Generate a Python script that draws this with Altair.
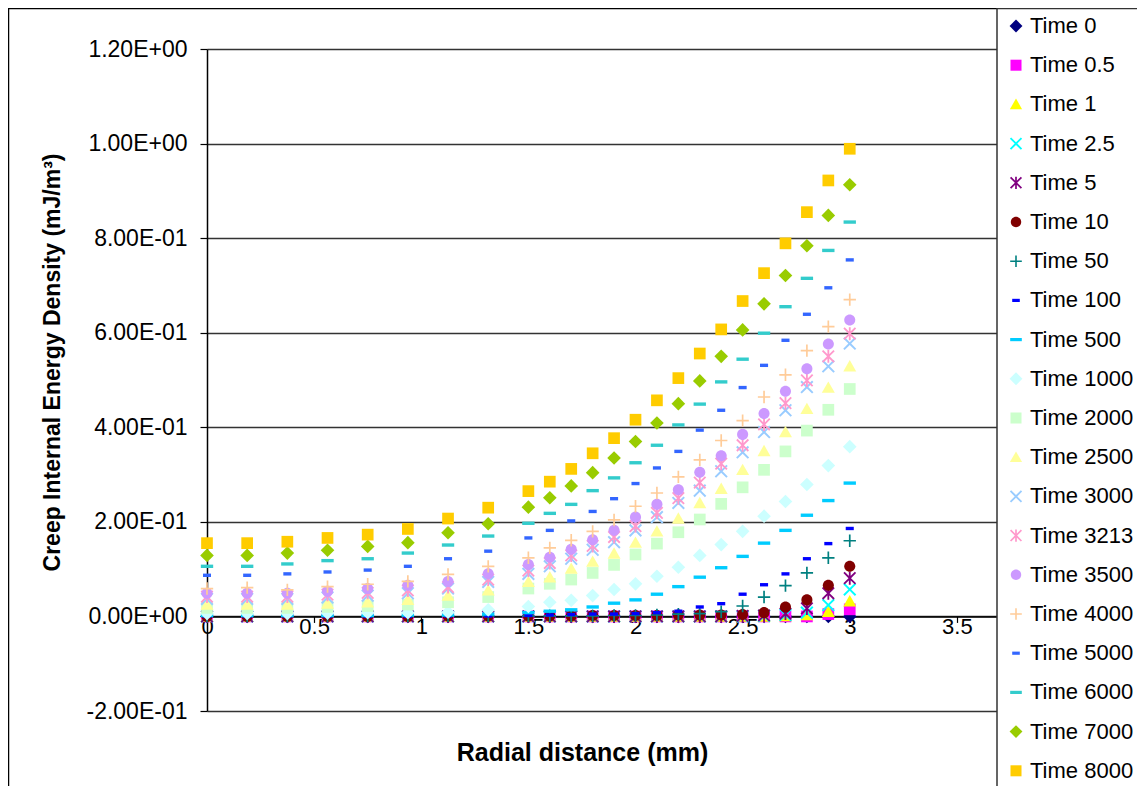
import math
import altair as alt
import pandas as pd

# ---------------- data ----------------
x_mm = [0, 0.1875, 0.375, 0.5625, 0.75, 0.9375, 1.125, 1.3125, 1.5, 1.6, 1.7, 1.8,
        1.9, 2.0, 2.1, 2.2, 2.3, 2.4, 2.5, 2.6, 2.7, 2.8, 2.9, 3.0]

series_names = ["Time 0", "Time 0.5", "Time 1", "Time 2.5", "Time 5", "Time 10",
                "Time 50", "Time 100", "Time 500", "Time 1000", "Time 2000",
                "Time 2500", "Time 3000", "Time 3213", "Time 3500", "Time 4000",
                "Time 5000", "Time 6000", "Time 7000", "Time 8000"]

t0 = [0.0] * 24
t0_5 = [0.0] * 22 + [0.005, 0.015]
t1 = [0.0] * 20 + [0.001, 0.003, 0.010, 0.032]
t2_5 = [0.0] * 19 + [0.001, 0.003, 0.008, 0.024, 0.057]
t5 = [0.0] * 18 + [0.001, 0.002, 0.006, 0.017, 0.049, 0.081]
t10 = [0.0] * 6 + [0.001, 0.001, 0.001, 0.001, 0.001, 0.002, 0.002, 0.002, 0.002,
                   0.003, 0.003, 0.003, 0.004, 0.008, 0.020, 0.035, 0.066, 0.106]
t50 = [0.0] * 6 + [0.001, 0.001, 0.001, 0.001, 0.001, 0.001, 0.002, 0.002, 0.003,
                   0.005, 0.006, 0.010, 0.022, 0.041, 0.065, 0.092, 0.124, 0.160]
t100 = [0.0] * 6 + [0.001, 0.001, 0.002, 0.003, 0.004, 0.005, 0.005, 0.006, 0.008,
                    0.011, 0.020, 0.027, 0.047, 0.067, 0.090, 0.122, 0.154, 0.186]
t500 = [0.002, 0.002, 0.002, 0.002, 0.002, 0.003, 0.003, 0.005, 0.008, 0.011, 0.014,
        0.020, 0.028, 0.035, 0.047, 0.063, 0.083, 0.103, 0.127, 0.155, 0.182, 0.214,
        0.245, 0.282]
t1000 = [0.006, 0.006, 0.006, 0.007, 0.008, 0.008, 0.009, 0.014, 0.021, 0.030, 0.034,
         0.044, 0.057, 0.069, 0.085, 0.104, 0.129, 0.152, 0.180, 0.212, 0.243, 0.279,
         0.319, 0.359]
t2000 = [0.018, 0.018, 0.018, 0.020, 0.022, 0.025, 0.030, 0.041, 0.059, 0.069, 0.078,
         0.092, 0.109, 0.131, 0.154, 0.178, 0.205, 0.238, 0.273, 0.310, 0.349, 0.393,
         0.437, 0.481]
t2500 = [0.025, 0.025, 0.025, 0.027, 0.030, 0.035, 0.044, 0.055, 0.073, 0.083, 0.101,
         0.116, 0.133, 0.156, 0.180, 0.207, 0.240, 0.270, 0.310, 0.350, 0.390, 0.439,
         0.484, 0.529]
t3000 = [0.037, 0.037, 0.037, 0.040, 0.044, 0.049, 0.059, 0.073, 0.090, 0.106, 0.122,
         0.141, 0.157, 0.182, 0.210, 0.240, 0.266, 0.307, 0.347, 0.390, 0.436, 0.485,
         0.529, 0.577]
t3213 = [0.042, 0.042, 0.042, 0.046, 0.050, 0.055, 0.062, 0.078, 0.097, 0.113, 0.129,
         0.149, 0.168, 0.191, 0.219, 0.250, 0.283, 0.323, 0.362, 0.406, 0.451, 0.499,
         0.550, 0.598]
t3500 = [0.049, 0.049, 0.049, 0.053, 0.059, 0.066, 0.074, 0.090, 0.110, 0.125, 0.142,
         0.162, 0.182, 0.210, 0.237, 0.268, 0.305, 0.340, 0.385, 0.429, 0.476, 0.524,
         0.576, 0.627]
t4000 = [0.059, 0.061, 0.056, 0.063, 0.068, 0.074, 0.089, 0.106, 0.124, 0.145, 0.161,
         0.180, 0.204, 0.233, 0.261, 0.295, 0.331, 0.372, 0.414, 0.464, 0.511, 0.562,
         0.613, 0.670]
t5000 = [0.087, 0.087, 0.090, 0.094, 0.098, 0.106, 0.122, 0.138, 0.166, 0.182, 0.202,
         0.222, 0.249, 0.281, 0.314, 0.349, 0.394, 0.436, 0.484, 0.531, 0.584, 0.639,
         0.695, 0.754]
t6000 = [0.106, 0.106, 0.111, 0.118, 0.122, 0.134, 0.151, 0.170, 0.197, 0.218, 0.237,
         0.266, 0.293, 0.325, 0.362, 0.405, 0.449, 0.496, 0.544, 0.599, 0.655, 0.715,
         0.774, 0.834]
t7000 = [0.129, 0.129, 0.134, 0.140, 0.148, 0.156, 0.177, 0.196, 0.231, 0.251, 0.276,
         0.304, 0.335, 0.370, 0.409, 0.450, 0.498, 0.550, 0.606, 0.661, 0.721, 0.784,
         0.848, 0.913]
t8000 = [0.155, 0.155, 0.158, 0.166, 0.173, 0.185, 0.207, 0.230, 0.265, 0.285, 0.312,
         0.345, 0.377, 0.416, 0.457, 0.504, 0.556, 0.607, 0.667, 0.726, 0.789, 0.855,
         0.922, 0.989]

series_values = [t0, t0_5, t1, t2_5, t5, t10, t50, t100, t500, t1000, t2000, t2500,
                 t3000, t3213, t3500, t4000, t5000, t6000, t7000, t8000]

x_ticks = [0, 0.5, 1, 1.5, 2, 2.5, 3, 3.5]
y_ticks = [-0.2, 0, 0.2, 0.4, 0.6, 0.8, 1.0, 1.2]

colors = ["#000080", "#FF00FF", "#FFFF00", "#00FFFF", "#800080", "#800000",
          "#008080", "#0000FF", "#00CCFF", "#CCFFFF", "#CCFFCC", "#FFFF99",
          "#99CCFF", "#FF99CC", "#CC99FF", "#FFCC99", "#3366FF", "#33CCCC",
          "#99CC00", "#FFCC00"]


# ---------------- marker shapes ----------------
def poly(pts):
    return "M" + "L".join(f"{px:.3f},{py:.3f}" for px, py in pts) + "Z"


def plus_pts(L, t):
    return [(-L, -t), (-t, -t), (-t, -L), (t, -L), (t, -t), (L, -t),
            (L, t), (t, t), (t, L), (-t, L), (-t, t), (-L, t)]


def rot45(pts):
    s = 1 / math.sqrt(2)
    return [((px - py) * s, (px + py) * s) for px, py in pts]


DIAMOND = "M0,-1.05L1.05,0L0,1.05L-1.05,0Z"
SQUARE = "M-0.9,-0.9L0.9,-0.9L0.9,0.9L-0.9,0.9Z"
TRIANGLE = "M0,-0.95L1,0.8L-1,0.8Z"
XSHAPE = poly(rot45(plus_pts(1.27, 0.15)))
STAR = poly(rot45(plus_pts(1.25, 0.14))) + poly([(-0.14, -1.0), (0.14, -1.0), (0.14, 1.0), (-0.14, 1.0)])
CIRCLE = "M0.85,0A0.85,0.85,0,1,1,-0.85,0A0.85,0.85,0,1,1,0.85,0Z"
PLUS = poly(plus_pts(0.95, 0.13))
SDASH = "M-0.62,-0.26L0.62,-0.26L0.62,0.26L-0.62,0.26Z"
LDASH = "M-0.95,-0.26L0.95,-0.26L0.95,0.26L-0.95,0.26Z"

shapes = [DIAMOND, SQUARE, TRIANGLE, XSHAPE, STAR, CIRCLE, PLUS, SDASH, LDASH,
          DIAMOND, SQUARE, TRIANGLE, XSHAPE, STAR, CIRCLE, PLUS, SDASH, LDASH,
          DIAMOND, SQUARE]

rows = []
for k, (name, vals) in enumerate(zip(series_names, series_values)):
    for xv, yv in zip(x_mm, vals):
        rows.append({"series": name, "x": xv, "y": yv, "order": k})
df = pd.DataFrame(rows)

# ---------------- layout ----------------
W, H = 857, 662          # x runs 0..4; the legend box covers the part past ~3.7
FONT = "Liberation Sans"
zero_offset = -(H * 0.2 / 1.4)

legend = alt.Legend(
    orient="none", legendX=798, legendY=-34, title=None, padding=0,
    labelFont=FONT, labelFontSize=22, labelColor="black", labelOffset=3,
    symbolSize=150, symbolStrokeWidth=0, rowPadding=17.2, symbolOpacity=1,
    labelLimit=200,
)

points = alt.Chart(df).mark_point(filled=True, opacity=1, size=169, strokeWidth=0).encode(
    x=alt.X("x:Q", scale=alt.Scale(domain=[0, 4], nice=False, zero=False),
            axis=alt.Axis(values=x_ticks, format="~g", offset=zero_offset, grid=False,
                          domainColor="black", domainWidth=1.5, tickColor="black",
                          tickWidth=1.2, tickSize=6, labelFont=FONT, labelFontSize=22,
                          labelColor="black", labelPadding=-6, labelFlush=False,
                          title="Radial distance (mm)", titleFont=FONT, titleFontSize=25,
                          titleFontWeight="bold", titleColor="black",
                          titleX=375, titleAlign="center",
                          titleY=136, titleBaseline="middle")),
    y=alt.Y("y:Q", scale=alt.Scale(domain=[-0.2, 1.2], nice=False, zero=False),
            axis=alt.Axis(values=y_ticks,
                          labelExpr="replace(replace(replace(format(datum.value, '.2e'), 'e+', 'E+0'), 'e-', 'E-0'), '\u2212', '-')",
                          grid=True, gridColor="#333333", gridWidth=1.4,
                          domainColor="black", domainWidth=1.5, tickColor="black",
                          tickWidth=1.2, tickSize=7, labelFont=FONT, labelFontSize=23,
                          labelColor="black", labelPadding=13, labelFlush=False,
                          title="Creep Internal Energy Density (mJ/m³)", titleFont=FONT,
                          titleFontSize=23, titleFontWeight="bold", titleColor="black",
                          titleX=-155, titleY=313, titleBaseline="middle")),
    color=alt.Color("series:N", scale=alt.Scale(domain=series_names, range=colors),
                    legend=legend),
    shape=alt.Shape("series:N", scale=alt.Scale(domain=series_names, range=shapes),
                    legend=legend),
    order=alt.Order("order:Q"),
)

frame_data = alt.Data(values=[{"a": 1}])
outer = alt.Chart(frame_data).mark_rect(fill="transparent", stroke="black", strokeWidth=1.5).encode(
    x=alt.value(-198.5), x2=alt.value(1400), y=alt.value(-40.5), y2=alt.value(1400))
legend_box = alt.Chart(frame_data).mark_rect(fill="white", stroke="#333333", strokeWidth=1.5).encode(
    x=alt.value(790), x2=alt.value(1400), y=alt.value(-40.5), y2=alt.value(1400))

chart = alt.layer(outer, points, legend_box).properties(
    width=W, height=H,
    autosize=alt.AutoSizeParams(type="none"),
    padding={"left": 199, "top": 41, "right": 1129 - 199 - W, "bottom": 75},
    background="white",
).configure_view(stroke=None)

chart.save("out.html", embed_options={"renderer": "svg", "actions": False})
